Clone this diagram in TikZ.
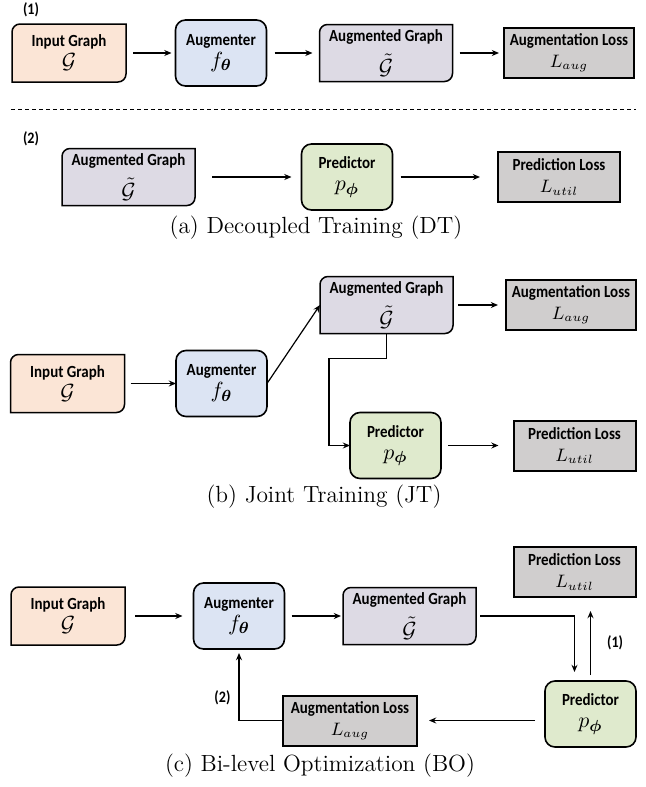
\documentclass[tikz,border=0pt]{standalone}
\usepackage{amsmath}
\usepackage{amssymb}
\usepackage{fontspec}
\newfontfamily\etiqfont[FakeStretch=0.88]{Carlito}
\usepackage{tikz}
\usetikzlibrary{
    positioning,
    arrows.meta,
    backgrounds
}
\definecolor{colentrada}{RGB}{251,229,214}
\definecolor{colaum}{RGB}{220,228,243}
\definecolor{colgrafo}{RGB}{221,218,228}
\definecolor{colpred}{RGB}{223,234,205}
\definecolor{colperd}{RGB}{208,206,206}
\tikzset{
    >={Stealth[length=3.6pt,width=3pt]},
    caja/.style={
        align=center,
        inner sep=1pt,
        outer sep=0pt,
        font=\etiqfont\bfseries\fontsize{8.5}{10}\selectfont
    },
    entrada/.style={caja, minimum width=57pt, minimum height=29pt},
    grafo/.style={caja, minimum width=66.5pt, minimum height=28.5pt},
    aumentador/.style={
        caja, draw, line width=0.8pt, rounded corners=5pt,
        fill=colaum, minimum width=45.5pt, minimum height=33pt
    },
    predictor/.style={aumentador, fill=colpred},
    perdida/.style={
        caja, draw, line width=1pt, fill=colperd,
        minimum width=65pt, minimum height=25pt
    },
    flecha/.style={->, line width=0.6pt},
    etiq/.style={font=\etiqfont\bfseries\fontsize{8}{9}\selectfont, inner sep=1pt},
    leyenda/.style={font=\fontsize{11.7}{14}\selectfont}
}
% marco con dos esquinas redondeadas
\newcommand{\marcografo}[2]{%
    \draw[line width=0.75pt, fill=#2]
        (#1.south west) -- ([yshift=-4pt]#1.north west)
        arc[start angle=180, end angle=90, radius=4pt] -- (#1.north east)
        -- ([yshift=4pt]#1.south east)
        arc[start angle=0, end angle=-90, radius=4pt] -- cycle;
}
\newcommand{\mat}{\fontsize{11}{12}\selectfont}
\newcommand{\matp}{\fontsize{9}{10}\selectfont}

\begin{document}
\begin{tikzpicture}[
    x=0.5pt,
    y=-0.5pt,
    on grid
]
    \useasboundingbox (0,0) rectangle (646,787);

    % (a) Entrenamiento desacoplado
    \node[etiq] (pasoA1) at (31,10) {(1)};
    \node[entrada] (inA) at (69,53) {Input Graph\\[1pt]\mat$\mathcal{G}$};
    \node[aumentador] (augA) [right=76pt of inA] {Augmenter\\[1pt]\mat$f_{\boldsymbol{\theta}}$};
    \node[grafo] (gA) [right=82.5pt of augA] {Augmented Graph\\[4pt]\mat$\tilde{\mathcal{G}}$};
    \node[perdida] (laA) [right=91.5pt of gA] {Augmentation Loss\\[1pt]\matp$L_{aug}$};

    \draw[line width=0.45pt, dash pattern=on 2.2pt off 1.3pt] (11,109) -- (636,109);

    \node[etiq] (pasoA2) at (31,139) {(2)};
    \node[grafo] (gA2) at (128.5,177) {Augmented Graph\\[4pt]\mat$\tilde{\mathcal{G}}$};
    \node[predictor] (predA) [right=109.25pt of gA2] {Predictor\\[1pt]\mat$p_{\boldsymbol{\phi}}$};
    \node[perdida, minimum width=61pt] (luA) [right=106pt of predA] {Prediction Loss\\[1pt]\matp$L_{util}$};

    \node[leyenda] (capA) at (316,228) {(a) Decoupled Training (DT)};

    \draw[flecha, shorten <=3.5pt, shorten >=2pt] (inA) -- (augA);
    \draw[flecha, shorten <=4pt, shorten >=3.5pt] (augA) -- (gA);
    \draw[flecha, shorten <=3.5pt, shorten >=2.5pt] (gA) -- (laA);
    \draw[flecha, shorten <=8.5pt, shorten >=5pt] (gA2) -- (predA);
    \draw[flecha, shorten <=4pt, shorten >=9pt] (predA) -- (luA);

    % (b) Entrenamiento conjunto
    \node[entrada] (inB) at (67.5,383.5) {Input Graph\\[1pt]\mat$\mathcal{G}$};
    \node[aumentador] (augB) [right=77pt of inB] {Augmenter\\[1pt]\mat$f_{\boldsymbol{\theta}}$};
    \node[grafo] (gB) [above right=39.25pt and 82.5pt of augB] {Augmented Graph\\[4pt]\mat$\tilde{\mathcal{G}}$};
    \node[perdida] (laB) [right=92.25pt of gB] {Augmentation Loss\\[1pt]\matp$L_{aug}$};
    \node[predictor] (predB) [below right=70.25pt and 4.5pt of gB] {Predictor\\[1pt]\mat$p_{\boldsymbol{\phi}}$};
    \node[perdida, minimum width=61pt] (luB) [right=89.5pt of predB] {Prediction Loss\\[1pt]\matp$L_{util}$};

    \node[leyenda] (capB) at (324,497) {(b) Joint Training (JT)};

    \draw[flecha, shorten <=3pt] (inB) -- (augB);
    \draw[flecha] (augB.east) -- (gB.west);
    \draw[flecha, shorten <=2.5pt, shorten >=4pt] (gB) -- (laB);
    \draw[flecha] (gB.south) -- ++(0pt,-12.5pt) -| ([xshift=-10.5pt]predB.west) -- (predB.west);
    \draw[flecha, shorten <=3.5pt, shorten >=7.5pt] (predB) -- (luB);

    % (c) Optimizacion binivel
    \node[entrada] (inC) at (68,616) {Input Graph\\[1pt]\mat$\mathcal{G}$};
    \node[aumentador] (augC) [right=85.5pt of inC] {Augmenter\\[1pt]\mat$f_{\boldsymbol{\theta}}$};
    \node[grafo] (gC) [right=85.25pt of augC] {Augmented Graph\\[4pt]\mat$\tilde{\mathcal{G}}$};
    \node[predictor] (predC) [below right=49pt and 90.5pt of gC] {Predictor\\[1pt]\mat$p_{\boldsymbol{\phi}}$};
    \node[perdida, minimum width=61pt] (luC) [above left=71pt and 8pt of predC] {Prediction Loss\\[1pt]\matp$L_{util}$};
    \node[perdida, minimum width=67pt] (laC) [below left=3.25pt and 120.25pt of predC] {Augmentation Loss\\[1pt]\matp$L_{aug}$};

    \node[leyenda] (capC) at (320,766) {(c) Bi-level Optimization (BO)};

    \draw[flecha, shorten <=5pt, shorten >=5.5pt] (inC) -- (augC);
    \draw[flecha, shorten <=3.5pt, shorten >=1pt] (augC) -- (gC);
    \draw[flecha, shorten <=2pt, shorten >=4.5pt] (gC.east) -| ([xshift=-8pt]predC.north);
    \draw[flecha, shorten <=3pt, shorten >=7pt] (predC.north) -- (predC.north |- luC.south)
        node[etiq, pos=0.45, right=7pt] (pasoC1) {(1)};
    \draw[flecha, shorten <=5pt, shorten >=6pt] (predC.west |- laC.east) -- (laC.east);
    \draw[flecha, shorten >=2pt] (laC.west) -| (augC.south)
        node[etiq, pos=0.66, left=3pt] (pasoC2) {(2)};

    % marcos de los grafos
    \begin{scope}[on background layer]
        \marcografo{inA}{colentrada}
        \marcografo{gA}{colgrafo}
        \marcografo{gA2}{colgrafo}
        \marcografo{inB}{colentrada}
        \marcografo{gB}{colgrafo}
        \marcografo{inC}{colentrada}
        \marcografo{gC}{colgrafo}
    \end{scope}

\end{tikzpicture}
\end{document}
